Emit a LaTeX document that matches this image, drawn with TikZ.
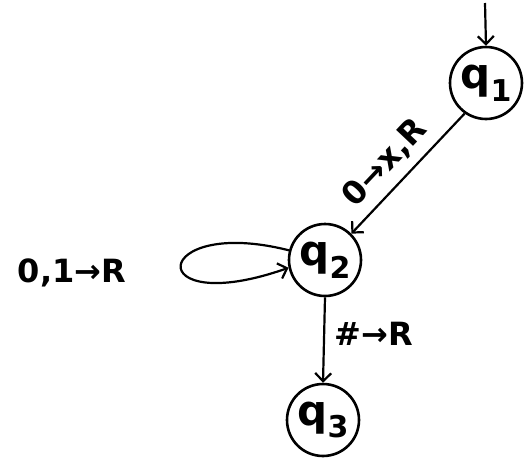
\documentclass[tikz,border=0pt]{standalone}
\usepackage{fontspec}
\setmainfont{DejaVu Sans}
\usetikzlibrary{arrows.meta}
% state name with a lowered index
\newcommand{\qname}[1]{q\raisebox{-0.3em}{\fontsize{30}{32}\selectfont #1}}
\begin{document}
\begin{tikzpicture}[x=1pt,y=-1pt,
  state/.style={circle,draw,line width=2.6pt,minimum size=72pt,inner sep=0pt,font=\fontsize{42}{44}\selectfont\bfseries},
  trans/.style={line width=2.2pt,-{Straight Barb[length=8pt,width=16pt,line width=2.2pt]}},
  lbl/.style={font=\fontsize{32}{34}\selectfont\bfseries}]
\useasboundingbox (0,0) rectangle (527,466);
\node[state] (q1) at (486,83) {\qname{1}};
\node[state] (q2) at (325,260) {\qname{2}};
\node[state] (q3) at (323,420) {\qname{3}};
\coordinate (start) at (485,3);
% start arrow
\draw[trans] (start) -- (q1.north);
% transitions
\draw[trans] (q1.235) -- (q2.45)
  node[lbl,midway,above,sloped,yshift=5pt,xshift=-8pt] {0→x,R};
\draw[trans] (q2.165) .. controls (150,215) and (140,320) .. (q2.192);
\node[lbl] (loopl) at (72,273) {0,1→R};
\draw[trans] (q2.south) -- (q3.north)
  node[lbl,midway,right,xshift=6pt,yshift=6pt] {\#→R};
\end{tikzpicture}
\end{document}
